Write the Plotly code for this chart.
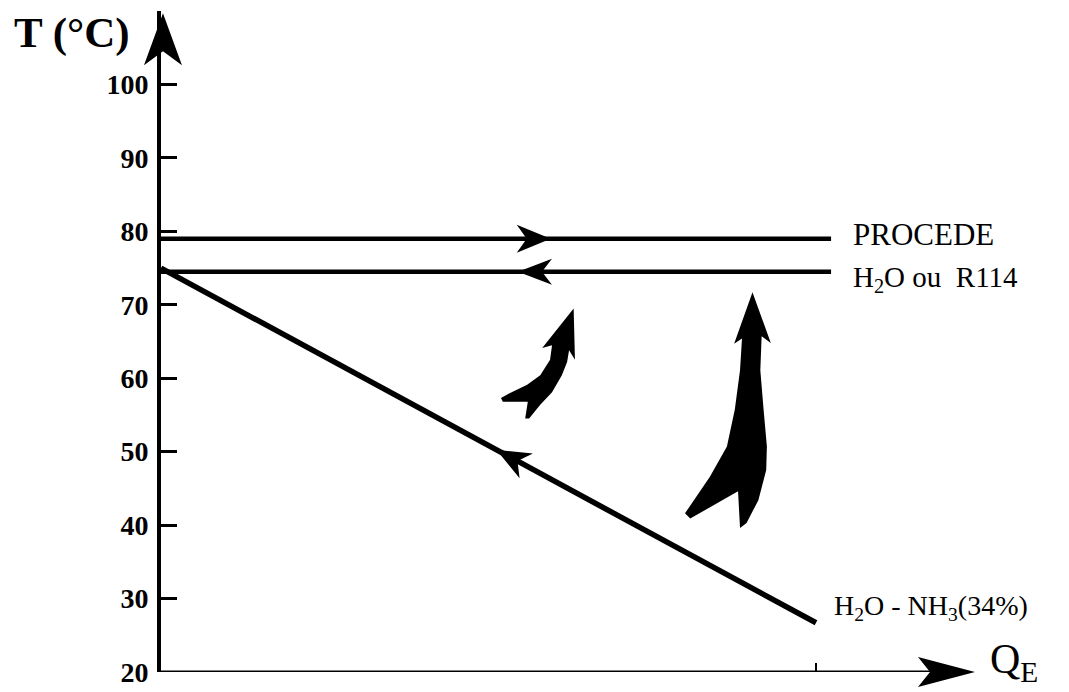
import numpy as np
import plotly.graph_objects as go

# Values (Q in units of the tick at Q=1, T in degC)
T_TICKS = [20, 30, 40, 50, 60, 70, 80, 90, 100]
Q_TICKS = [1]

Q_PROCEDE = [0, 1.023]
T_PROCEDE = [79, 79]

Q_FLUIDE = [0, 1.023]
T_FLUIDE = [74.5, 74.5]

Q_MELANGE = [0, 1.0]
T_MELANGE = [75, 26.7]

# direction arrows sitting on the lines (tip position)
ARROW_PROCEDE_Q = 0.595
ARROW_FLUIDE_Q = 0.545
ARROW_MELANGE_Q = 0.512

# the two fat "heat lift" arrows, outline in (Q, T)
SMALL_LIFT_Q = [0.630, 0.632, 0.623, 0.620, 0.612, 0.597, 0.579, 0.562, 0.556,
                0.560, 0.522, 0.519, 0.533, 0.559, 0.579, 0.594, 0.597, 0.582]
SMALL_LIFT_T = [69.5, 62.5, 63.8, 62.2, 60.4, 58.1, 56.4, 54.5, 54.5,
                56.8, 56.8, 57.3, 58.0, 59.1, 60.4, 62.5, 64.5, 64.1]

BIG_LIFT_Q = [0.903, 0.931, 0.917, 0.915, 0.920, 0.925, 0.924, 0.912, 0.894, 0.884,
              0.881, 0.808, 0.800, 0.838, 0.864, 0.876, 0.884, 0.887, 0.875]
BIG_LIFT_T = [71.7, 64.8, 65.7, 61.1, 55.7, 50.7, 47.5, 43.4, 40.3, 39.6,
              44.6, 40.9, 41.6, 46.6, 50.7, 55.7, 61.1, 65.4, 64.7]

# Geometry. The page body adds an 8 px margin, so the figure is 8 px smaller each way.
W, H = 1061, 684
M_L, M_R, M_T, M_B = 153, 0, 3, 20
X_MAX = (W - M_L - M_R) / 655
Y_MIN, Y_MAX = 20, 110
PLOT_W = W - M_L - M_R
PLOT_H = H - M_T - M_B
PX_X = PLOT_W / X_MAX
PX_Y = PLOT_H / (Y_MAX - Y_MIN)
FONT = "Liberation Serif"


def to_paper(q, t):
    return q / X_MAX, (t - Y_MIN) / (Y_MAX - Y_MIN)


def arrowhead(q, t, dx, dy, length, half_w, notch):
    """Notched arrowhead path in paper coords, tip at (q, t), direction (dx, dy) in pixels (y up)."""
    n = np.hypot(dx, dy)
    ux, uy = dx / n, dy / n
    nx, ny = -uy, ux
    pts_px = [(0, 0),
              (-length * ux + half_w * nx, -length * uy + half_w * ny),
              (-(length - notch) * ux, -(length - notch) * uy),
              (-length * ux - half_w * nx, -length * uy - half_w * ny)]
    x0, y0 = to_paper(q, t)
    pts = [(x0 + px / PLOT_W, y0 + py / PLOT_H) for px, py in pts_px]
    return "M " + " L ".join(f"{a:.5f},{b:.5f}" for a, b in pts) + " Z"


def polygon(qs, ts):
    return "M " + " L ".join(f"{a:.4f},{b:.3f}" for a, b in zip(qs, ts)) + " Z"


fig = go.Figure()

for qs, ts, w in [(Q_PROCEDE, T_PROCEDE, 4.5), (Q_FLUIDE, T_FLUIDE, 4.5), (Q_MELANGE, T_MELANGE, 5.5)]:
    fig.add_trace(go.Scatter(x=qs, y=ts, mode="lines", line=dict(color="black", width=w),
                             hoverinfo="skip", showlegend=False))

shapes = []
head = dict(type="path", xref="paper", yref="paper", fillcolor="black", line=dict(width=0),
            layer="above")
body = dict(type="path", xref="x", yref="y", fillcolor="black", line=dict(width=0),
            layer="above")

# x axis drawn as a line ending in an arrow
x_tip = (975 - 161) / 655
shapes.append(dict(type="line", xref="x", yref="y", x0=0, y0=Y_MIN, x1=x_tip - 0.05, y1=Y_MIN,
                   line=dict(color="black", width=3)))
shapes.append(dict(head, path=arrowhead(x_tip, Y_MIN, 1, 0, 57, 15, 12)))
# y axis arrow
shapes.append(dict(head, path=arrowhead(0.003, 109.7, 0, 1, 52, 19, 14)))

# arrows on the three lines
shapes.append(dict(head, path=arrowhead(ARROW_PROCEDE_Q, T_PROCEDE[0], 1, 0, 34, 14, 10)))
shapes.append(dict(head, path=arrowhead(ARROW_FLUIDE_Q, T_FLUIDE[0], -1, 0, 34, 13, 10)))
slope = (T_MELANGE[1] - T_MELANGE[0]) / (Q_MELANGE[1] - Q_MELANGE[0])
t_arrow = T_MELANGE[0] + slope * ARROW_MELANGE_Q
shapes.append(dict(head, path=arrowhead(ARROW_MELANGE_Q, t_arrow,
                                        -(Q_MELANGE[1] - Q_MELANGE[0]) * PX_X,
                                        (T_MELANGE[0] - T_MELANGE[1]) * PX_Y, 34, 14, 10)))

# fat curved arrows
shapes.append(dict(body, path=polygon(SMALL_LIFT_Q, SMALL_LIFT_T)))
shapes.append(dict(body, path=polygon(BIG_LIFT_Q, BIG_LIFT_T)))


def label(q, t, text, size, anchor="left", bold=False):
    x, y = to_paper(q, t)
    return dict(x=x, y=y, xref="paper", yref="paper", text=text, showarrow=False,
                xanchor=anchor, yanchor="middle",
                font=dict(family=FONT, size=size, color="black",
                          weight="bold" if bold else "normal"))


annotations = [
    label(-0.136, 107.0, "T (°C)", 43, anchor="center", bold=True),
    label(1.053, 79.6, "PROCEDE", 31),
    label(1.053, 73.5, "H<sub>2</sub>O ou  R114", 29),
    label(1.024, 28.8, "H<sub>2</sub>O - NH<sub>3</sub>(34%)", 28),
    label(1.262, 21.3, "Q<sub>E</sub>", 42),
]

fig.update_layout(
    width=W, height=H,
    margin=dict(l=M_L, r=M_R, t=M_T, b=M_B),
    plot_bgcolor="white", paper_bgcolor="white",
    shapes=shapes, annotations=annotations,
    xaxis=dict(range=[0, X_MAX], showgrid=False, zeroline=False, showline=False,
               tickvals=Q_TICKS, ticks="inside", ticklen=9, tickwidth=1.5, tickcolor="black",
               showticklabels=False, fixedrange=True),
    yaxis=dict(range=[Y_MIN, Y_MAX], showgrid=False, zeroline=False, showline=True,
               linecolor="black", linewidth=4, tickvals=T_TICKS, ticks="inside", ticklen=16,
               tickwidth=2.5, tickcolor="black", ticklabelstandoff=3, automargin=False,
               tickfont=dict(family=FONT, size=28, color="black", weight="bold"),
               fixedrange=True),
)

fig.write_html("out.html")
